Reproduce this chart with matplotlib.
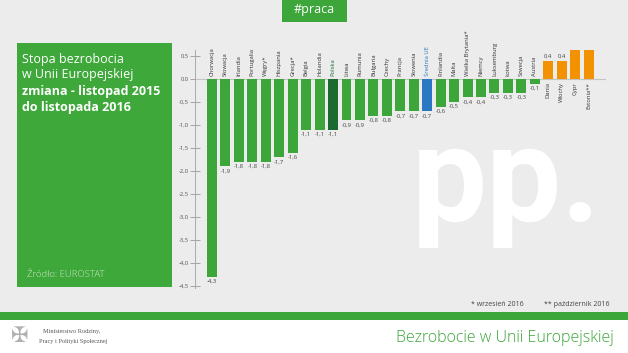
import matplotlib
matplotlib.use("Agg")
import matplotlib.pyplot as plt
from matplotlib.patches import Rectangle
from matplotlib.textpath import TextPath
from matplotlib.font_manager import FontProperties

countries = ["Chorwacja", "Słowacja", "Irlandia", "Portugalia", "Węgry*", "Hiszpania",
             "Grecja*", "Belgia", "Holandia", "Polska", "Litwa", "Rumunia", "Bułgaria",
             "Czechy", "Francja", "Słowenia", "Średnia UE", "Finlandia", "Malta",
             "Wielka Brytania*", "Niemcy", "Luksemburg", "Łotwa", "Szwecja", "Austria",
             "Dania", "Włochy", "Cypr", "Estonia**"]
values = [-4.3, -1.9, -1.8, -1.8, -1.8, -1.7, -1.6, -1.1, -1.1, -1.1, -0.9, -0.9, -0.8,
          -0.8, -0.7, -0.7, -0.7, -0.6, -0.5, -0.4, -0.4, -0.3, -0.3, -0.3, -0.1,
          0.4, 0.4, 1.0, 1.1]
yticks = [0.5, 0.0, -0.5, -1.0, -1.5, -2.0, -2.5, -3.0, -3.5, -4.0, -4.5]

GREEN = "#3ca63a"
DARK = "#1b6b30"
BLUE = "#2b78c2"
ORANGE = "#f39200"
BG = "#ececec"

W, H = 628, 353
fig = plt.figure(figsize=(W / 100, H / 100), dpi=100)
fig.patch.set_facecolor(BG)
FONT = ["Open Sans", "DejaVu Sans"]

def px(x, y):
    return x / W, 1 - y / H

# footer white band and green stripe
fig.patches.append(Rectangle((0, 0), 1, (H - 320) / H, transform=fig.transFigure,
                             facecolor="white", edgecolor="none", zorder=0))
fig.patches.append(Rectangle((0, (H - 320) / H), 1, 8 / H, transform=fig.transFigure,
                             facecolor=GREEN, edgecolor="none", zorder=0))
# #praca box
fig.patches.append(Rectangle(px(282, 22), 65 / W, 22 / H, transform=fig.transFigure,
                             facecolor=GREEN, edgecolor="none", zorder=0))
fig.text(*px(314.5, 10), "#praca", color="white", fontsize=9, ha="center", va="center",
         family=FONT)
# left panel
fig.patches.append(Rectangle(px(17, 287), (172 - 17) / W, (287 - 43) / H,
                             transform=fig.transFigure, facecolor="#3ea83a",
                             edgecolor="none", zorder=0))
fig.text(*px(22, 63), "Stopa bezrobocia", color="white", fontsize=9, va="baseline", family=FONT)
fig.text(*px(22, 78), "w Unii Europejskiej", color="white", fontsize=9, va="baseline", family=FONT)
fig.text(*px(22, 95), "zmiana - listopad 2015", color="white", fontsize=9, va="baseline",
         family=FONT, fontweight="bold")
fig.text(*px(22, 111), "do listopada 2016", color="white", fontsize=9, va="baseline",
         family=FONT, fontweight="bold")
fig.text(*px(27, 277), "Źródło: EUROSTAT", color="#cbe9c7", fontsize=6.8, va="baseline",
         family=FONT, fontweight="light")

# big watermark "pp." fitted to the ink box seen in the reference
tx0, ty0, ty1 = 412, 149, 248
WM_FAMILY = ["Roboto", "DejaVu Sans"]
fp = FontProperties(family=WM_FAMILY, weight="bold")
tp = TextPath((0, 0), "pp.", size=100, prop=fp)
v = tp.vertices
xmin, ymin = v.min(axis=0)
xmax, ymax = v.max(axis=0)
S = (ty1 - ty0) * 72 / (ymax - ymin)
k = S / 72.0
fig.text(*px(tx0 - xmin * k, ty0 + ymax * k), "pp.", color="white", fontsize=S,
         fontweight="bold", family=WM_FAMILY, ha="left", va="baseline", zorder=0.5)

# footnotes
fig.text(*px(524, 305), "* wrzesień 2016", color="#444", fontsize=5, ha="right",
         va="center", family=FONT)
fig.text(*px(609, 305), "** październik 2016", color="#444", fontsize=5, ha="right",
         va="center", family=FONT)
# footer texts
fig.text(*px(614, 338), "Bezrobocie w Unii Europejskiej", color="#3ca63a", fontsize=11.5,
         ha="right", va="center", family=FONT, fontweight="light")
fig.text(*px(43, 332), "Ministerstwo Rodziny,", color="#555", fontsize=4.5, va="center",
         family=["Liberation Serif", "DejaVu Serif"])
fig.text(*px(39, 342), "Pracy i Polityki Społecznej", color="#555", fontsize=4.5,
         va="center", family=["Liberation Serif", "DejaVu Serif"])
fig.text(*px(20, 336), "✠", color="#b0b0b0", fontsize=15, ha="center", va="center",
         family=["DejaVu Sans"])

# chart axes
ppu = 46.0  # pixels per unit
ylo, yhi = -4.55, 0.62
y0 = 79.0
top_px = y0 - yhi * ppu
bot_px = y0 - ylo * ppu
step = 13.45
c0 = 212.0
left_px, right_px = 195.0, 606.0
ax = fig.add_axes([left_px / W, 1 - bot_px / H, (right_px - left_px) / W,
                   (bot_px - top_px) / H])
ax.set_facecolor("none")
ax.set_ylim(ylo, yhi)
ax.set_xlim(-(c0 - left_px) / step, (right_px - c0) / step)

colors = []
for c, v in zip(countries, values):
    if c == "Polska":
        colors.append(DARK)
    elif c == "Średnia UE":
        colors.append(BLUE)
    elif v > 0:
        colors.append(ORANGE)
    else:
        colors.append(GREEN)

xs = list(range(len(countries)))
ax.bar(xs, values, width=0.74, color=colors, zorder=3)
ax.axhline(0, color="#c4c4c4", lw=0.8, zorder=2)

for x, c, v, col in zip(xs, countries, values, colors):
    lab = f"{v:.1f}".replace(".", ",")
    tcol = "#333"
    if c == "Polska":
        tcol = DARK
    elif c == "Średnia UE":
        tcol = BLUE
    if v < 0:
        ax.annotate(lab, (x, v), xytext=(0, -1.5), textcoords="offset points", ha="center",
                    va="top", fontsize=4.2, color="#444", family=FONT)
        ax.annotate(c, (x, 0), xytext=(0, 2.5), textcoords="offset points", ha="center",
                    va="bottom", rotation=90, fontsize=4.2, color=tcol, family=FONT)
    else:
        ax.annotate(lab, (x, v), xytext=(0, 1.5), textcoords="offset points", ha="center",
                    va="bottom", fontsize=4.2, color="#444", family=FONT)
        ax.annotate(c, (x, 0), xytext=(0, -2.5), textcoords="offset points", ha="center",
                    va="top", rotation=90, fontsize=4.2, color=tcol, family=FONT)

ax.set_yticks(yticks)
ax.set_yticklabels([f"{t:.1f}".replace(".", ",") for t in yticks], fontsize=4.2,
                   color="#555", family=FONT)
ax.tick_params(axis="y", direction="inout", length=7, width=0.6, color="#999", pad=1)
ax.set_xticks([])
for s in ["top", "right", "bottom"]:
    ax.spines[s].set_visible(False)
ax.spines["left"].set_color("#aaa")
ax.spines["left"].set_linewidth(0.7)

fig.savefig("out.png", dpi=100, facecolor=fig.get_facecolor())
